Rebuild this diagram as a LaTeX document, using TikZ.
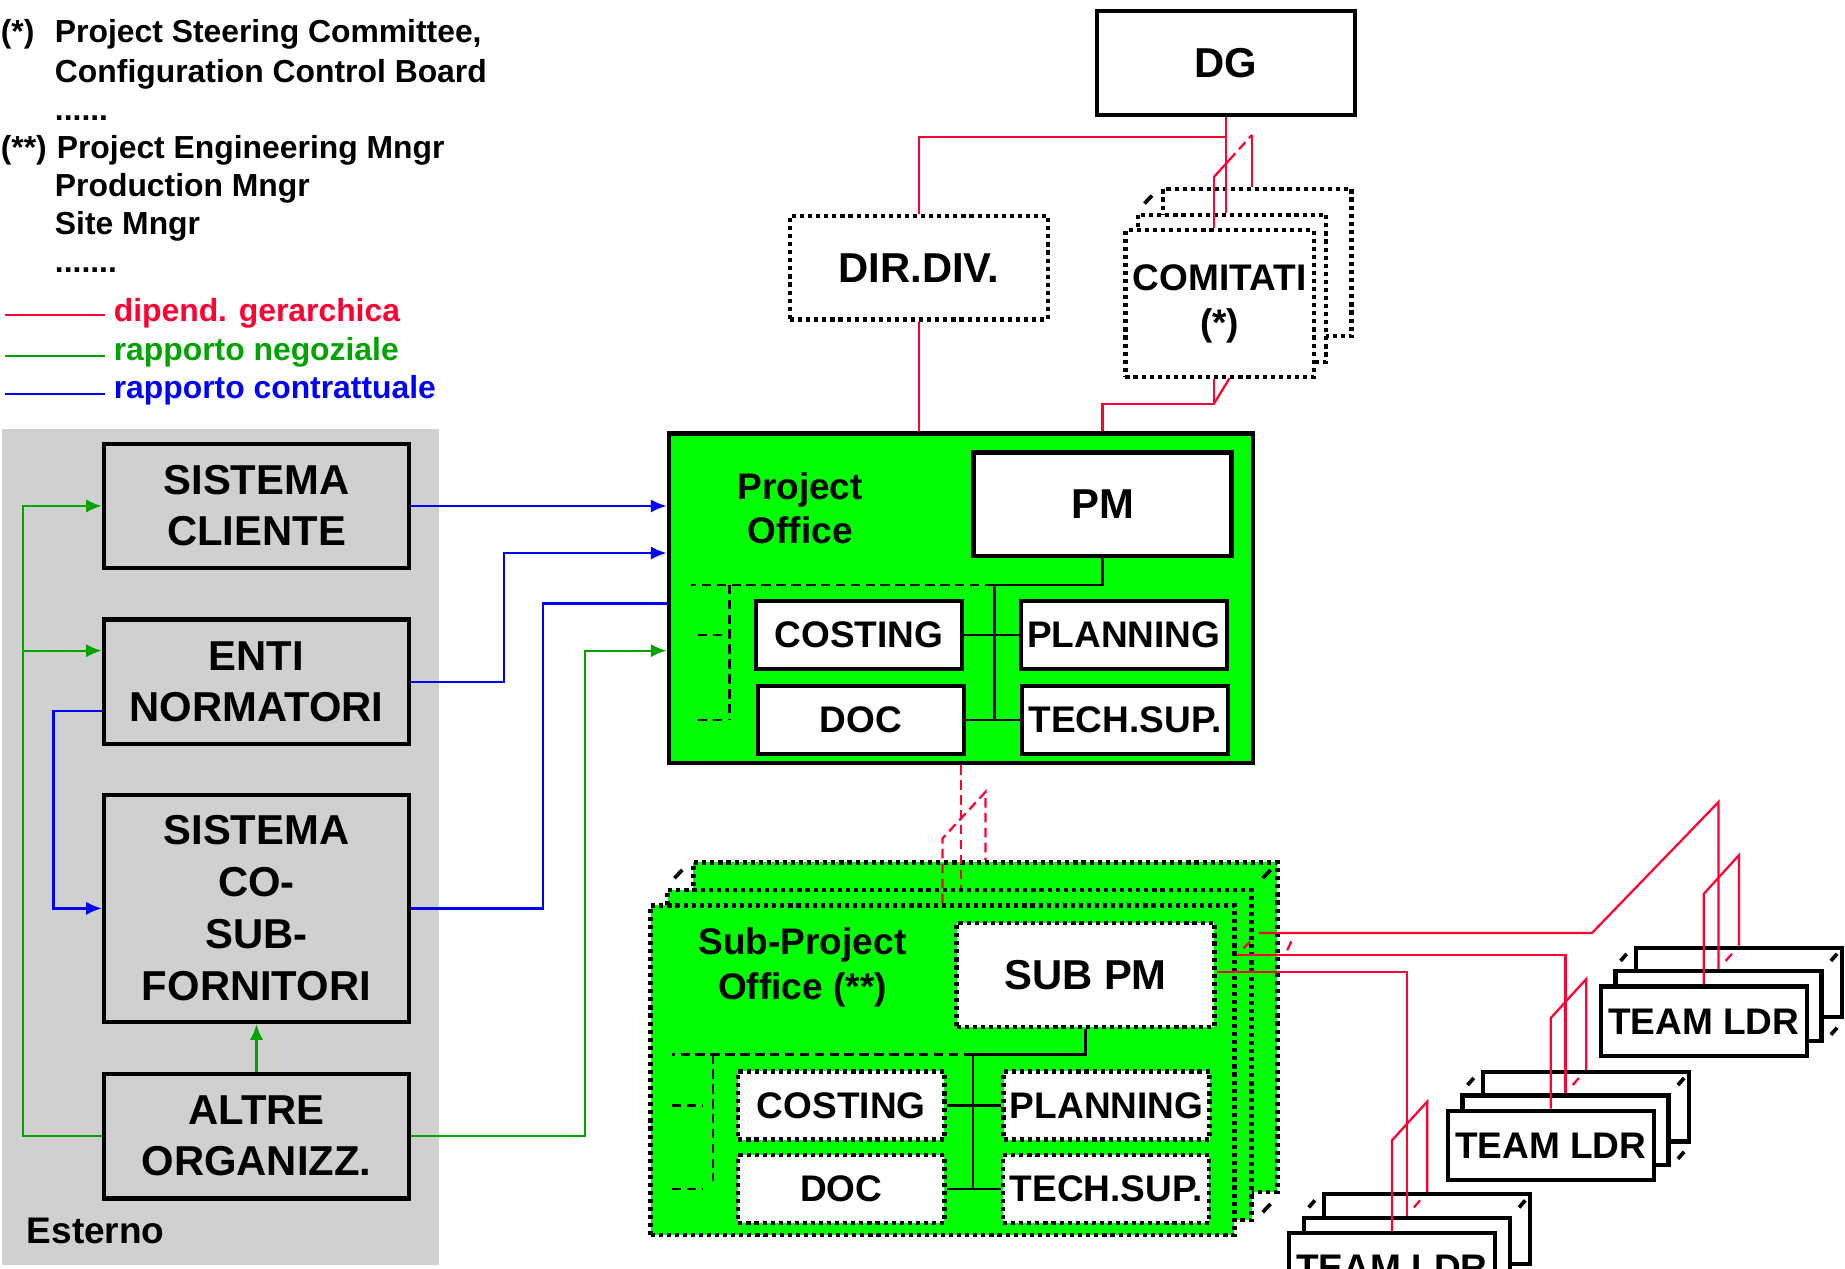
\documentclass[tikz,border=0pt]{standalone}
\usepackage{fontspec}
\setmainfont{Liberation Sans}
\usetikzlibrary{arrows.meta,calc}
\definecolor{orgred}{HTML}{FF0033}
\definecolor{orggreen}{HTML}{00A300}
\definecolor{orgblue}{HTML}{0000FF}
\definecolor{officegreen}{HTML}{00FF00}
\definecolor{panelgrey}{HTML}{D0D0D0}

\tikzset{
  bigtxt/.style={font=\fontsize{10.1pt}{12.3pt}\selectfont\bfseries},
  smalltxt/.style={font=\fontsize{8.95pt}{10.8pt}\selectfont\bfseries},
  legtxt/.style={font=\fontsize{7.7pt}{9.3pt}\selectfont\bfseries, anchor=base west, inner sep=0pt},
  solidbox/.style={draw, line width=1.05pt, fill=white, inner sep=0pt, align=center},
  dotbox/.style={draw, line width=1.05pt, dash pattern=on 1.0pt off 0.95pt, fill=white, inner sep=0pt, align=center},
  extbox/.style={solidbox, fill=panelgrey, bigtxt, minimum width=2.59cm},
  headbox/.style={minimum width=2.19cm, minimum height=0.88cm, bigtxt},
  unitbox/.style={minimum width=1.75cm, minimum height=0.58cm, smalltxt},
  officebox/.style={minimum width=4.96cm, minimum height=2.8cm, fill=officegreen},
  hier/.style={orgred, line width=0.55pt},
  neg/.style={orggreen, line width=0.55pt},
  contr/.style={orgblue, line width=0.55pt},
  arr/.style={-{Latex[length=3.8pt,width=3.2pt]}},
  ldash/.style={dash pattern=on 2.3pt off 1.3pt},
  edgetick/.style={black, line width=0.9pt},
  bus/.style={black, line width=0.6pt},
}

\begin{document}
\begin{tikzpicture}[x=0.01cm, y=-0.01cm]
  \clip (0,0) rectangle (1568,1078);
  \fill[white] (0,0) rectangle (1568,1078);

  % legenda
  \node[legtxt] (ast1) at (0,36.5) {(*)};
  \node[legtxt] (leg1) at (46,36.5) {Project Steering Committee,};
  \node[legtxt] (leg2) at (46,69.7) {Configuration Control Board};
  \node[legtxt] (leg3) at (46,102) {......};
  \node[legtxt] (ast2) at (0,134.3) {(**)};
  \node[legtxt] (leg4) at (47.6,134.3) {Project Engineering Mngr};
  \node[legtxt] (leg5) at (46,167.4) {Production Mngr};
  \node[legtxt] (leg6) at (46,199.7) {Site Mngr};
  \node[legtxt] (leg7) at (46,232) {.......};
  \draw[hier] (4,267.7) -- (89,267.7);
  \node[legtxt, orgred] (lred) at (96,273.4) {dipend. gerarchica};
  \draw[neg] (4,302.5) -- (89,302.5);
  \node[legtxt, orggreen] (lgreen) at (96,306) {rapporto negoziale};
  \draw[contr] (4,334.8) -- (89,334.8);
  \node[legtxt, orgblue] (lblue) at (96,338.6) {rapporto contrattuale};

  % esterno
  \fill[panelgrey] (2,365) rectangle (373,1075);
  \node[extbox, minimum height=1.05cm] (scl) at (218,430) {SISTEMA\\CLIENTE};
  \node[extbox, minimum height=1.06cm] (enti) at (218,579.5) {ENTI\\NORMATORI};
  \node[extbox, minimum height=1.93cm, font=\fontsize{10.1pt}{12.6pt}\selectfont\bfseries] (scsf) at (218,772) {SISTEMA\\CO-\\SUB-\\FORNITORI};
  \node[extbox, minimum height=1.06cm] (altre) at (218,965.5) {ALTRE\\ORGANIZZ.};
  \node[smalltxt, anchor=base west, inner sep=0pt] (est) at (22,1057) {Esterno};

  % vertice
  \node[solidbox, headbox] (dg) at (1042,53.5) {DG};
  \node[dotbox, headbox] (dir) at (781,227.5) {DIR.DIV.};
  \node[dotbox, minimum width=1.6cm, minimum height=1.25cm] (comB) at (1068.5,223) {};
  \node[dotbox, minimum width=1.6cm, minimum height=1.25cm] (comM) at (1047,245) {};
  \node[dotbox, minimum width=1.6cm, minimum height=1.25cm, smalltxt] (comF) at (1036.5,258) {COMITATI\\(*)};
  \draw[edgetick] ($(comM.north west)!0.35!(comB.north west)$) -- ($(comM.north west)!0.65!(comB.north west)$);

  % project office
  \node[draw, line width=1.05pt, officebox] (po) at (816.5,508.5) {};
  \node[smalltxt, align=center] (potxt) at (680,432) {Project\\Office};
  \node[solidbox, headbox] (pm) at (937,428.5) {PM};
  \node[solidbox, unitbox] (cst) at (730,539.5) {COSTING};
  \node[solidbox, unitbox] (pln) at (955,539.5) {PLANNING};
  \node[solidbox, unitbox] (doc) at (731.5,612) {DOC};
  \node[solidbox, unitbox] (tsp) at (956,612) {TECH.SUP.};
  \coordinate (pobus) at (845,497);
  \draw[bus] (pm.south) |- (pobus) -- (pobus |- doc.east);
  \draw[bus] (cst.east) -- (pln.west);
  \draw[bus] (doc.east) -- (tsp.west);
  \coordinate (poend) at (587,497);
  \coordinate (porail) at (620,497);
  \draw[bus, ldash] (pobus) -- (poend);
  \draw[bus, ldash] (porail) -- (porail |- doc.east);
  \draw[bus, ldash] ($(porail |- cst.east)+(-27,0)$) -- ++(25,0);
  \draw[bus, ldash] ($(porail |- doc.east)+(-27,0)$) -- ++(25,0);

  % sub-project office
  \node[dotbox, officebox] (spoB) at (837.5,873) {};
  \node[dotbox, officebox] (spoM) at (815.5,896.5) {};
  \node[dotbox, officebox] (spoF) at (801,909.5) {};
  \foreach \c in {north west, north east, south east}
    \draw[edgetick] ($(spoM.\c)!0.35!(spoB.\c)$) -- ($(spoM.\c)!0.65!(spoB.\c)$);
  \node[smalltxt, align=center] (spotxt) at (682,822) {Sub-Project\\Office (**)};
  \node[dotbox, headbox] (spm) at (922.5,828.5) {SUB PM};
  \node[dotbox, unitbox] (cst2) at (715,939.5) {COSTING};
  \node[dotbox, unitbox] (pln2) at (940.5,939.5) {PLANNING};
  \node[dotbox, unitbox] (doc2) at (715,1010.5) {DOC};
  \node[dotbox, unitbox] (tsp2) at (940,1010.5) {TECH.SUP.};
  \coordinate (spbus) at (827,896);
  \draw[bus] (spm.south) |- (spbus) -- (spbus |- doc2.east);
  \draw[bus] (cst2.east) -- (pln2.west);
  \draw[bus] (doc2.east) -- (tsp2.west);
  \coordinate (spend) at (571,896);
  \coordinate (sprail) at (606,896);
  \draw[bus, ldash] (spbus) -- (spend);
  \draw[bus, ldash] (sprail) -- ($(sprail |- doc2.east)+(0,-7)$);
  \draw[bus, ldash] ($(sprail |- cst2.east)+(-35,0)$) -- ++(26,0);
  \draw[bus, ldash] ($(sprail |- doc2.east)+(-35,0)$) -- ++(26,0);

  % team leader
  \foreach \nm/\px/\py in {tlA/1448/868, tlB/1318/973.5, tlC/1183/1077.5}{
    \node[solidbox, unitbox, minimum height=0.59cm] (\nm-b) at (\px+30,\py-33) {};
    \node[solidbox, unitbox, minimum height=0.59cm] (\nm-m) at (\px+12.5,\py-13) {};
    \node[solidbox, unitbox, minimum height=0.59cm] (\nm-f) at (\px,\py) {TEAM LDR};
    \foreach \c in {north west, north east, south east}
      \draw[edgetick] ($(\nm-m.\c)!0.35!(\nm-b.\c)$) -- ($(\nm-m.\c)!0.65!(\nm-b.\c)$);
    \draw[hier] (\nm-f.north) -- ++(0,-77) -- ($(\nm-b.north)+(0,-77)$) -- (\nm-b.north);
    \draw[hier] ($(\nm-m.north)!0.35!(\nm-b.north)$) -- ($(\nm-m.north)!0.65!(\nm-b.north)$);
  }

  % dipendenze gerarchiche
  \draw[hier] (dg.south) -- (dg.south |- comM.north);
  \draw[hier] (dg.south) -- ++(0,17) -| (dir.north);
  \draw[hier] ($(comF.north)+(-5,0)$) -- ++(0,-43) coordinate (cf);
  \draw[hier] ($(comB.north)+(-4.5,0)$) -- ++(0,-44) coordinate (cb);
  \draw[hier] (cf) -- ($(cf)!0.4!(cb)$);
  \draw[hier, ldash] ($(cf)!0.4!(cb)$) -- (cb);
  \draw[hier] (dir.south) -- (dir.south |- po.north);
  \draw[hier] ($(comF.south)+(-5,0)$) -- ++(0,21) coordinate (cbot) -| (pm.north |- po.north);
  \draw[hier] (cbot) -- ($(comM.south)+(-2,12)$);
  \draw[hier, ldash] (po.south) -- (po.south |- spoM.north);
  \draw[hier, ldash] (spoF.north) -- ++(0,-55) -- ($(spoB.north)+(0,-58)$) -- (spoB.north);

  \coordinate (spmF) at ($(spm.east)+(0,-2.5)$);
  \coordinate (spmM) at ($(spm.east)+(17,-17)$);
  \coordinate (spmB) at ($(spm.east)+(36,-35.5)$);
  \draw[hier] (spmF) -| (tlC-m.north);
  \draw[hier] (spmM) -| (tlB-m.north);
  \draw[hier] (spmB) -- ++(283,0) -- ($(tlA-m.north)+(0,-142)$) -- (tlA-m.north);
  \draw[hier] ($(spmM)!0.3!(spmB)$) -- ($(spmM)!0.6!(spmB)$);
  \draw[hier] (1094,807.5) -- (1097.5,800);

  % rapporti negoziali e contrattuali
  \draw[neg, arr] (altre.west) -- ++(-67,0) |- (scl.west);
  \draw[neg, arr] ($(enti.west)+(-67,-26.5)$) -- ($(enti.west)+(0,-26.5)$);
  \draw[contr, arr] ($(enti.west)+(0,24.5)$) -- ++(-41,0) |- (scsf.west);
  \draw[neg, arr] (altre.north) -- (scsf.south);
  \draw[contr, arr] (scl.east) -- (scl.east -| po.west);
  \draw[contr, arr] (enti.east) -- ++(79,0) |- ($(po.west)+(0,-38.5)$);
  \draw[contr] (scsf.east) -- ++(112,0) |- ($(po.west)+(0,4.5)$);
  \draw[neg, arr] (altre.east) -- ++(148,0) |- ($(po.west)+(0,44.5)$);
\end{tikzpicture}
\end{document}
